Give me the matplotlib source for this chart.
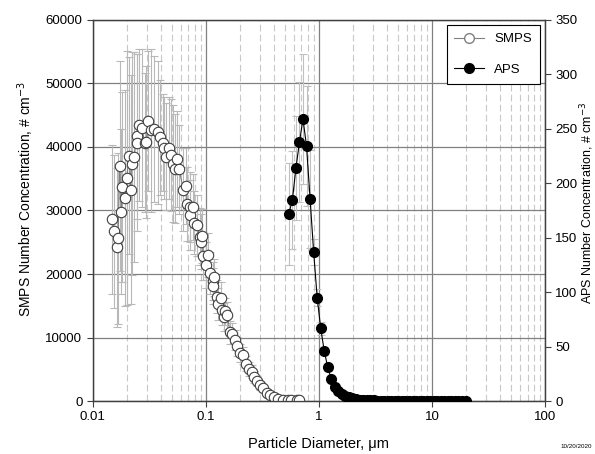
import matplotlib.pyplot as plt
from matplotlib.lines import Line2D

plt.rcParams['font.family'] = ['Liberation Sans', 'DejaVu Sans']

# SMPS size distribution (diameter in um, concentration in # cm-3)
smps_d = [0.0149, 0.0153, 0.0162, 0.0167, 0.0173, 0.0179, 0.0183, 0.0192, 0.0199, 0.0210,
          0.0216, 0.0220, 0.0232, 0.0244, 0.0247, 0.0257, 0.0270, 0.0289, 0.0298, 0.0309,
          0.0326, 0.0347, 0.0378, 0.0392, 0.0419, 0.0425, 0.0442, 0.0473, 0.0490, 0.0513,
          0.0531, 0.0558, 0.0580, 0.0630, 0.0661, 0.0675, 0.0721, 0.0731, 0.0762, 0.0782,
          0.0828, 0.0885, 0.0914, 0.0932, 0.0947, 0.101, 0.105, 0.108, 0.115, 0.116,
          0.118, 0.126, 0.128, 0.135, 0.138, 0.144, 0.147, 0.154, 0.164, 0.172,
          0.180, 0.189, 0.200, 0.214, 0.226, 0.241, 0.254, 0.266, 0.284, 0.300,
          0.322, 0.344, 0.367, 0.401, 0.435, 0.484, 0.532, 0.570, 0.640, 0.660]
smps_n = [28600, 26700, 24200, 25600, 37000, 29800, 33700, 31900, 35100, 38600,
          33300, 37400, 38400, 41700, 40700, 43500, 43000, 40700, 40800, 44100,
          42600, 42900, 42300, 41500, 40700, 39800, 38500, 39800, 38700, 37400,
          36600, 38100, 36500, 33300, 33900, 31000, 30500, 29300, 30500, 28100,
          27700, 25900, 25100, 26000, 22800, 21400, 23000, 20100, 18900, 18100,
          19500, 16400, 15300, 16300, 14300, 13200, 14100, 13500, 10800, 10600,
          9600, 8600, 7500, 7200, 5900, 5100, 4600, 3800, 3200, 2500,
          2000, 1300, 900, 600, 300, 200, 100, 150, 100, 150]
smps_err = [11700, 12000, 12500, 13500, 16500, 13000, 15000, 17000, 20000, 15500,
            18000, 17500, 16500, 13000, 14000, 12000, 12500, 11000, 12000, 11000,
            12800, 11500, 11300, 9000, 7600, 8000, 8500, 8000, 8800, 9200,
            8600, 7500, 7000, 6500, 6000, 5800, 5500, 5500, 5200, 5000,
            4800, 4500, 4300, 4200, 3800, 3600, 3500, 3300, 3000, 2900,
            2900, 2600, 2500, 2500, 2300, 2200, 2200, 2100, 1800, 1700,
            1600, 1500, 1400, 1300, 1200, 1100, 1000, 900, 800, 700,
            600, 500, 400, 300, 250, 200, 150, 150, 100, 100]

# APS size distribution
aps_d = [0.542, 0.583, 0.626, 0.673, 0.723, 0.777, 0.835, 0.898, 0.965, 1.037,
         1.114, 1.197, 1.286, 1.382, 1.486, 1.596, 1.715, 1.843, 1.981, 2.129,
         2.288, 2.458, 2.642, 2.839, 3.051, 3.278, 3.523, 3.786, 4.068, 4.371,
         4.698, 5.048, 5.425, 5.829, 6.264, 6.732, 7.234, 7.774, 8.354, 8.977,
         9.647, 10.37, 11.14, 11.97, 12.86, 13.82, 14.86, 15.96, 17.15, 18.43, 19.81]
aps_n = [172, 185, 214, 238, 259, 234, 186, 137, 95, 67,
         46, 31, 20, 13, 9, 6, 4.5, 3.3, 2.5, 1.8,
         1.3, 1.0, 0.8, 0.6, 0.5, 0.4, 0.35, 0.3, 0.25, 0.2,
         0.18, 0.15, 0.13, 0.12, 0.1, 0.1, 0.08, 0.08, 0.07, 0.06,
         0.05, 0.05, 0.04, 0.04, 0.03, 0.03, 0.02, 0.02, 0.02, 0.01, 0.01]
aps_err = [47, 45, 48, 55, 60, 55, 45, 12, 8, 6,
           4, 3, 2, 1.5, 1, 0.8, 0.6, 0.5, 0.4, 0.3,
           0.2, 0.2, 0.1, 0.1, 0.1, 0.1, 0.1, 0.1, 0.1, 0.1,
           0, 0, 0, 0, 0, 0, 0, 0, 0, 0,
           0, 0, 0, 0, 0, 0, 0, 0, 0, 0, 0]

fig = plt.figure(figsize=(5.95, 4.54), dpi=100)
ax = fig.add_axes([0.156, 0.1167, 0.76, 0.8393])
ax2 = ax.twinx()

ax.set_xscale('log')
ax.set_xlim(0.01, 100)
ax.set_ylim(0, 60000)
ax.set_yticks(range(0, 60001, 10000))
ax2.set_ylim(0, 350)
ax2.set_yticks(range(0, 351, 50))

# grid
ax.grid(True, which='major', axis='x', color='#808080', lw=0.9)
ax.grid(True, which='minor', axis='x', color='#c8c8c8', lw=0.8, ls=(0, (6, 3)))
ax.grid(True, which='major', axis='y', color='#808080', lw=0.9)
ax.set_axisbelow(True)
ax.tick_params(axis='x', which='minor', length=0)

ax.errorbar(smps_d, smps_n, yerr=smps_err, fmt='none', ecolor='#b8b8b8',
            elinewidth=0.8, capsize=3, capthick=0.8, zorder=2)
ax.plot(smps_d, smps_n, color='#808080', lw=0.8, marker='o', ms=7.5,
        mfc='white', mec='#404040', mew=0.8, zorder=3)

ax2.errorbar(aps_d, aps_n, yerr=aps_err, fmt='none', ecolor='#c0c0c0',
             elinewidth=0.8, capsize=3, capthick=0.8, zorder=2)
ax2.plot(aps_d, aps_n, color='black', lw=0.8, marker='o', ms=7,
         mfc='black', mec='black', zorder=3)

for a in (ax, ax2):
    for s in a.spines.values():
        s.set_color('#404040')
        s.set_linewidth(0.9)
    a.tick_params(labelsize=9.5, direction='out', length=4, width=0.8, color='#404040')

ax.set_xticks([0.01, 0.1, 1, 10, 100])
ax.set_xticklabels(['0.01', '0.1', '1', '10', '100'])
ax.set_xlabel('Particle Diameter, μm', fontsize=10.5, labelpad=10)
ax.set_ylabel('SMPS Number Concentration, # cm$^{-3}$', fontsize=10)
ax.yaxis.set_label_coords(-0.125, 0.53)
ax2.set_ylabel('APS Number Concentration, # cm$^{-3}$', fontsize=9)
ax2.yaxis.set_label_coords(1.073, 0.52)

handles = [Line2D([], [], color='#808080', lw=0.8, marker='o', ms=7,
                  mfc='white', mec='#808080'),
           Line2D([], [], color='black', lw=0.8, marker='o', ms=7,
                  mfc='black', mec='black')]
leg = ax2.legend(handles, ['SMPS', 'APS'], loc='upper right', fontsize=9.5,
                 fancybox=False, framealpha=1, edgecolor='black',
                 borderaxespad=0.4, labelspacing=1.4, handlelength=2.2,
                 borderpad=0.6)
leg.get_frame().set_linewidth(0.8)

fig.text(0.995, 0.012, '10/20/2020', fontsize=4.5, ha='right', va='bottom')

fig.savefig('out.png', dpi=100)
